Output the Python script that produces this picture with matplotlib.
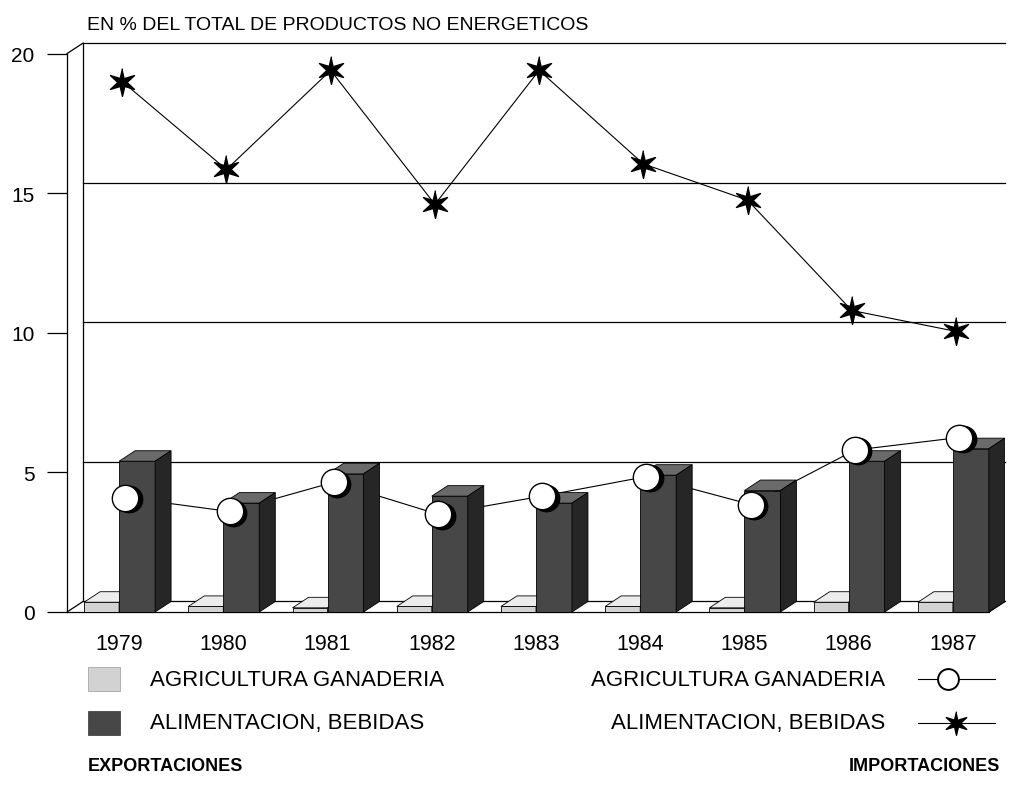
import numpy as np
import matplotlib.pyplot as plt
import matplotlib.transforms as mtransforms
from matplotlib.patches import Polygon, Rectangle
from matplotlib.path import Path
from matplotlib.lines import Line2D

plt.rcParams['font.family'] = ['Liberation Sans', 'DejaVu Sans']

years = ['1979', '1980', '1981', '1982', '1983', '1984', '1985', '1986', '1987']
# exportaciones (bars)
exp_agri = [0.35, 0.2, 0.15, 0.2, 0.2, 0.2, 0.15, 0.35, 0.35]
exp_alim = [5.4, 3.9, 4.95, 4.15, 3.9, 4.9, 4.35, 5.4, 5.85]
# importaciones (lines)
imp_agri = [4.1, 3.6, 4.65, 3.5, 4.15, 4.85, 3.85, 5.8, 6.25]
imp_alim = [19.0, 15.85, 19.4, 14.6, 19.4, 16.05, 14.75, 10.8, 10.05]
yticks = [0, 5, 10, 15, 20]

W, H = 1010, 803
fig = plt.figure(figsize=(W / 100, H / 100), dpi=100)
ax = fig.add_axes([67 / W, (H - 613) / H, 938 / W, 569 / H])
ax.set_xlim(-0.5, 8.5)
ax.set_ylim(0, 20.38)

# depth of the fake 3d box, in data units
dx = 16 / 104.2
dy = 10.5 / 27.9
x = np.arange(len(years))

# walls, floor and back grid
k = dict(color='black', lw=0.9, zorder=0.5, clip_on=False)
ax.plot([-0.5 + dx, -0.5 + dx], [dy, 20 + dy], **k)
ax.plot([-0.5, -0.5 + dx], [20, 20 + dy], **k)
ax.plot([-0.5, -0.5 + dx], [0, dy], **k)
for v in yticks[1:]:
    ax.plot([-0.5 + dx, 8.5], [v + dy, v + dy], **k)
ax.plot([-0.5 + dx, 8.5], [dy, dy], **k)
ax.plot([-0.5, 8.5 - dx], [0, 0], **k)
ax.plot([8.5 - dx, 8.5], [0, dy], **k)


def bar3d(x0, w, h, front, top, side):
    ax.bar(x0, h, width=w, align='edge', color=front, edgecolor='black',
           lw=0.6, zorder=2)
    ax.add_patch(Polygon([(x0, h), (x0 + w, h), (x0 + w + dx, h + dy), (x0 + dx, h + dy)],
                         closed=True, fc=top, ec='black', lw=0.6, zorder=2))
    ax.add_patch(Polygon([(x0 + w, 0), (x0 + w + dx, dy), (x0 + w + dx, h + dy), (x0 + w, h)],
                         closed=True, fc=side, ec='black', lw=0.6, zorder=2))


wl, wd = 0.336, 0.345
for i in range(len(years)):
    bar3d(x[i] - wl, wl, exp_agri[i], '#d2d2d2', '#ececec', '#b5b5b5')
    bar3d(x[i], wd, exp_alim[i], '#474747', '#6a6a6a', '#262626')

# star marker with thin points
ang = np.pi / 2 + np.arange(12) * np.pi / 6
rad = np.tile([1.0, 0.33], 6)
star = Path(np.column_stack([rad * np.cos(ang), rad * np.sin(ang)]))

ax.plot(x + 0.03, imp_alim, color='black', lw=0.8, marker=star, ms=20,
        mfc='black', mec='black', zorder=3, clip_on=False)

# circles: line behind bars, circles in front with a dark shadow
ax.plot(x + 0.06, imp_agri, color='black', lw=0.8, zorder=1)
shift = ax.transData + mtransforms.ScaledTranslation(2.5 / 72, -1 / 72, fig.dpi_scale_trans)
ax.plot(x + 0.06, imp_agri, ls='none', marker='o', ms=19, mfc='black', mec='black',
        transform=shift, zorder=3)
ax.plot(x + 0.06, imp_agri, ls='none', marker='o', ms=19, mfc='white', mec='black',
        mew=1.0, zorder=4)

# axes
for s in ['top', 'right', 'bottom']:
    ax.spines[s].set_visible(False)
ax.spines['left'].set_bounds(0, 20)
ax.spines['left'].set_linewidth(0.9)
ax.set_yticks(yticks)
ax.tick_params(axis='y', direction='out', length=14.4, width=0.9, pad=9, labelsize=15)
ax.set_xticks(x)
ax.set_xticklabels(years)
ax.tick_params(axis='x', length=0, pad=15, labelsize=15.5)

fig.text(87 / W, 1 - 25 / H, 'EN % DEL TOTAL DE PRODUCTOS NO ENERGETICOS',
         fontsize=14, va='center', ha='left')

# legend, exportaciones
fig.add_artist(Rectangle((88 / W, 1 - 692 / H), 32 / W, 24 / H, transform=fig.transFigure,
                         fc='#d2d2d2', ec='#999999', lw=0.5))
fig.add_artist(Rectangle((88 / W, 1 - 736 / H), 32 / W, 24 / H, transform=fig.transFigure,
                         fc='#474747', ec='#333333', lw=0.5))
fig.text(150 / W, 1 - 680 / H, 'AGRICULTURA GANADERIA', fontsize=16, va='center')
fig.text(150 / W, 1 - 724 / H, 'ALIMENTACION, BEBIDAS', fontsize=16, va='center')
fig.text(88 / W, 1 - 767 / H, 'EXPORTACIONES', fontsize=13, va='center', weight='bold')

# legend, importaciones
fig.text(885 / W, 1 - 680 / H, 'AGRICULTURA GANADERIA', fontsize=16, va='center', ha='right')
fig.text(885 / W, 1 - 724 / H, 'ALIMENTACION, BEBIDAS', fontsize=16, va='center', ha='right')
fig.text(1000 / W, 1 - 767 / H, 'IMPORTACIONES', fontsize=13, va='center', ha='right',
         weight='bold')
ly1, ly2 = 1 - 680 / H, 1 - 724 / H
fig.add_artist(Line2D([918 / W, 995 / W], [ly1, ly1], color='black', lw=0.8,
                      transform=fig.transFigure))
fig.add_artist(Line2D([948 / W], [ly1], marker='o', ms=15, mfc='white', mec='black',
                      mew=1.4, transform=fig.transFigure))
fig.add_artist(Line2D([918 / W, 995 / W], [ly2, ly2], color='black', lw=0.8,
                      transform=fig.transFigure))
fig.add_artist(Line2D([956 / W], [ly2], marker=star, ms=17, mfc='black', mec='black',
                      transform=fig.transFigure))

fig.savefig('out.png', dpi=100, facecolor='white')
